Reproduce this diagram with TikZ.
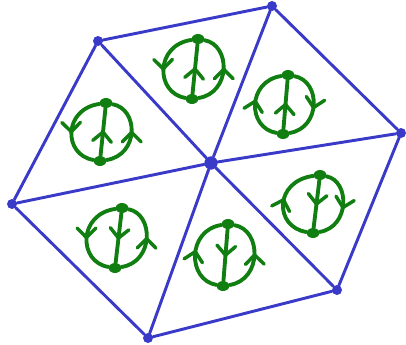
\documentclass[tikz,border=0pt]{standalone}
\usetikzlibrary{arrows.meta,decorations.markings,shapes.geometric}
\definecolor{hexblue}{RGB}{58,58,200}
\definecolor{graphgreen}{RGB}{16,126,16}
\tikzset{
  x=0.75pt, y=-0.75pt,
  bdot/.style={circle, fill=hexblue, inner sep=0pt, minimum size=7.5pt},
  bline/.style={draw=hexblue, line width=2.2pt, line cap=round},
  gdot/.style={ellipse, fill=graphgreen, inner sep=0pt, minimum width=9.5pt, minimum height=7.5pt},
  gline/.style={draw=graphgreen, line width=2.9pt, line cap=round},
  gbarb/.tip={Straight Barb[length=7pt,width=14pt,line width=2.6pt,line cap=round]},
  fwd/.style={postaction={decorate,decoration={markings,mark=at position 0.55 with {\arrow{gbarb}}}}},
  rev/.style={postaction={decorate,decoration={markings,mark=at position 0.45 with {\arrowreversed{gbarb}}}}},
}
\begin{document}
\begin{tikzpicture}
\useasboundingbox (0,0) rectangle (406,344);
% blue vertices
\node[bdot, minimum size=10pt] (c) at (211,163) {};
\node[bdot] (v1) at (98,41) {};
\node[bdot] (v2) at (272,6) {};
\node[bdot] (v3) at (401,133) {};
\node[bdot] (v4) at (337,290) {};
\node[bdot] (v5) at (148,338) {};
\node[bdot] (v6) at (12,204) {};
% hexagon
\draw[bline] (v1) -- (v2);
\draw[bline] (v2) -- (v3);
\draw[bline] (v3) -- (v4);
\draw[bline] (v4) -- (v5);
\draw[bline] (v5) -- (v6);
\draw[bline] (v6) -- (v1);
% spokes
\draw[bline] (c) -- (v1);
\draw[bline] (c) -- (v2);
\draw[bline] (c) -- (v3);
\draw[bline] (c) -- (v4);
\draw[bline] (c) -- (v5);
\draw[bline] (c) -- (v6);
% glyph 1 (top)
\node[gdot] (t1) at (198,39) {};
\node[gdot] (b1) at (192,99) {};
\draw[gline,fwd] (t1) .. controls (155,45) and (155,93) .. (b1);
\draw[gline,rev] (t1) -- (b1);
\draw[gline,rev] (t1) .. controls (231,45) and (231,93) .. (b1);
% glyph 2 (left)
\node[gdot] (t2) at (106,103) {};
\node[gdot] (b2) at (100,161) {};
\draw[gline,fwd] (t2) .. controls (63,109) and (63,155) .. (b2);
\draw[gline,rev] (t2) -- (b2);
\draw[gline,rev] (t2) .. controls (139,109) and (139,155) .. (b2);
% glyph 3 (upper right)
\node[gdot] (t3) at (288,75) {};
\node[gdot] (b3) at (283,134) {};
\draw[gline,rev] (t3) .. controls (247,81) and (247,128) .. (b3);
\draw[gline,rev] (t3) -- (b3);
\draw[gline,fwd] (t3) .. controls (321,81) and (321,128) .. (b3);
% glyph 4 (lower left)
\node[gdot] (t4) at (122,208) {};
\node[gdot] (b4) at (115,268) {};
\draw[gline,fwd] (t4) .. controls (78,214) and (78,262) .. (b4);
\draw[gline,fwd] (t4) -- (b4);
\draw[gline,rev] (t4) .. controls (154,214) and (154,262) .. (b4);
% glyph 5 (bottom)
\node[gdot] (t5) at (228,224) {};
\node[gdot] (b5) at (223,286) {};
\draw[gline,rev] (t5) .. controls (187,230) and (187,280) .. (b5);
\draw[gline,fwd] (t5) -- (b5);
\draw[gline,rev] (t5) .. controls (262,230) and (262,280) .. (b5);
% glyph 6 (lower right)
\node[gdot] (t6) at (320,175) {};
\node[gdot] (b6) at (313,233) {};
\draw[gline,rev] (t6) .. controls (274,181) and (274,227) .. (b6);
\draw[gline,fwd] (t6) -- (b6);
\draw[gline,fwd] (t6) .. controls (350,181) and (350,227) .. (b6);
\end{tikzpicture}
\end{document}
